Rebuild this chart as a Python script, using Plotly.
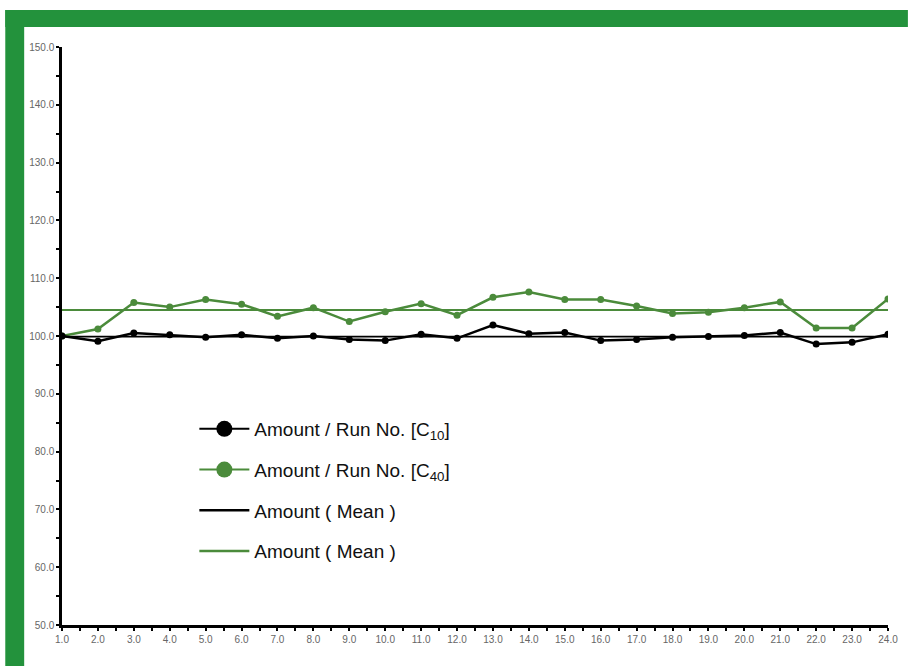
import numpy as np
import plotly.graph_objects as go

# Run numbers and measured amounts (% of reference)
runs = list(range(1, 25))
amount_c10 = [100.0, 99.1, 100.5, 100.2, 99.8, 100.2, 99.6, 100.0, 99.4, 99.2, 100.3, 99.6,
              101.9, 100.4, 100.6, 99.2, 99.4, 99.8, 99.9, 100.1, 100.6, 98.6, 98.9, 100.3]
amount_c40 = [100.0, 101.2, 105.8, 105.0, 106.3, 105.5, 103.4, 104.9, 102.5, 104.2, 105.6, 103.6,
              106.7, 107.6, 106.3, 106.3, 105.2, 103.9, 104.1, 104.9, 105.9, 101.4, 101.4, 106.4]

x_ticks = [float(r) for r in runs]
y_ticks = [50.0, 60.0, 70.0, 80.0, 90.0, 100.0, 110.0, 120.0, 130.0, 140.0, 150.0]

BLACK = "#000000"
GREEN = "#4B8B3B"
FRAME = "#23923C"

mean_c10 = float(np.mean(amount_c10))
mean_c40 = float(np.mean(amount_c40))

fig = go.Figure()

# Mean lines across the run range
fig.add_trace(go.Scatter(x=[runs[0], runs[-1]], y=[mean_c10, mean_c10], mode="lines",
                         line=dict(color=BLACK, width=1.8), showlegend=False))
fig.add_trace(go.Scatter(x=[runs[0], runs[-1]], y=[mean_c40, mean_c40], mode="lines",
                         line=dict(color=GREEN, width=2), showlegend=False))

# Measured series
fig.add_trace(go.Scatter(x=runs, y=amount_c40, mode="lines+markers",
                         line=dict(color=GREEN, width=2.5),
                         marker=dict(color=GREEN, size=7), showlegend=False))
fig.add_trace(go.Scatter(x=runs, y=amount_c10, mode="lines+markers",
                         line=dict(color=BLACK, width=2.5),
                         marker=dict(color=BLACK, size=7), showlegend=False))

# Legend entries
legend_items = [
    ("Amount / Run No. [C<sub>10</sub>]", "lines+markers", BLACK, 2, 16),
    ("Amount / Run No. [C<sub>40</sub>]", "lines+markers", GREEN, 2, 16),
    ("Amount ( Mean )", "lines", BLACK, 2.5, None),
    ("Amount ( Mean )", "lines", GREEN, 2.5, None),
]
for i, (name, mode, color, lw, ms) in enumerate(legend_items):
    kw = dict(marker=dict(color=color, size=ms)) if ms else {}
    fig.add_trace(go.Scatter(x=[None], y=[None], mode=mode, name=name,
                             line=dict(color=color, width=lw), legendgroup=f"g{i}",
                             showlegend=True, **kw))

# Page geometry (pixels) used to place the green frame in paper coordinates
W, H = 910, 666
ml, mr, mt, mb = 62, 18, 47, 41
pw, ph = W - ml - mr, H - mt - mb


def px(xp):
    return (xp - ml) / pw


def py(yp):
    return (H - mb - yp) / ph


fig.add_shape(type="rect", xref="paper", yref="paper", x0=px(5), x1=px(24), y0=py(H + 2), y1=py(10),
              fillcolor=FRAME, line=dict(width=0), layer="below")
fig.add_shape(type="rect", xref="paper", yref="paper", x0=px(5), x1=px(W + 2), y0=py(27), y1=py(10),
              fillcolor=FRAME, line=dict(width=0), layer="below")

tick_font = dict(family="Arial, Liberation Sans, sans-serif", size=10, color="#666666")

fig.update_layout(
    width=W, height=H,
    margin=dict(l=ml, r=mr, t=mt, b=mb),
    paper_bgcolor="white", plot_bgcolor="white",
    font=dict(family="Arial, Liberation Sans, sans-serif"),
    xaxis=dict(range=[1, 24], tickvals=x_ticks, ticktext=[f"{v:.1f}" for v in x_ticks],
               showgrid=False, zeroline=False, showline=True, linecolor=BLACK, linewidth=2.5,
               ticks="outside", ticklen=3, tickwidth=2, tickcolor=BLACK, tickfont=tick_font,
               minor=dict(dtick=0.5, tick0=1, ticks="outside", ticklen=3, tickwidth=2, tickcolor=BLACK)),
    yaxis=dict(range=[50, 150], tickvals=y_ticks, ticktext=[f"{v:.1f}" for v in y_ticks],
               showgrid=False, zeroline=False, showline=True, linecolor=BLACK, linewidth=2.5,
               ticks="outside", ticklen=3, tickwidth=2, tickcolor=BLACK, tickfont=tick_font,
               minor=dict(dtick=5, tick0=50, ticks="outside", ticklen=3, tickwidth=2, tickcolor=BLACK)),
    xaxis2=dict(range=[1, 24], overlaying="x", anchor="y", side="bottom", showgrid=False,
                zeroline=False, showline=False, showticklabels=False,
                tickvals=x_ticks, ticks="inside", ticklen=3, tickwidth=2, tickcolor=BLACK,
                minor=dict(dtick=0.5, tick0=1, ticks="inside", ticklen=3, tickwidth=2, tickcolor=BLACK)),
    yaxis2=dict(range=[50, 150], overlaying="y", anchor="x", side="left", showgrid=False,
                zeroline=False, showline=False, showticklabels=False,
                tickvals=y_ticks, ticks="inside", ticklen=3, tickwidth=2, tickcolor=BLACK,
                minor=dict(dtick=5, tick0=50, ticks="inside", ticklen=3, tickwidth=2, tickcolor=BLACK)),
    legend=dict(x=px(195), y=py(410), xanchor="left", yanchor="top",
                bgcolor="rgba(0,0,0,0)", borderwidth=0, itemwidth=50,
                tracegroupgap=13, font=dict(size=19, color="#111111"),
                itemsizing="trace"),
    showlegend=True,
)

fig.write_html("out.html")
